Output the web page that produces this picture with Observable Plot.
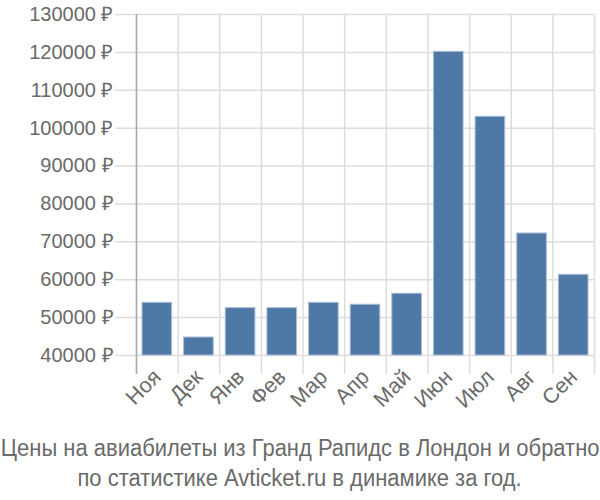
<!DOCTYPE html>
<html>
<head>
<meta charset="utf-8">
<script src="https://cdn.jsdelivr.net/npm/d3@7"></script>
<script src="https://cdn.jsdelivr.net/npm/@observablehq/plot@0.6"></script>
<style>
  html, body { margin: 0; padding: 0; background: #fff; }
  #chart { width: 600px; height: 425px; }
  .caption {
    width: 600px;
    display: flex;
    flex-direction: column;
    align-items: center;
    font-family: "Liberation Sans", Arial, sans-serif;
    font-size: 23.5px;
    line-height: 30px;
    color: #6a6a6a;
    margin-top: 8px;
    white-space: nowrap;
  }
  .caption div {
    width: max-content;
    transform: scaleX(0.935);
    transform-origin: 50% 0;
  }
</style>
</head>
<body>
<div id="chart"></div>
<div class="caption"><div>Цены на авиабилеты из Гранд Рапидс в Лондон и обратно</div><div>по статистике Avticket.ru в динамике за год.</div></div>
<script>
const months = ["Ноя", "Дек", "Янв", "Фев", "Мар", "Апр", "Май", "Июн", "Июл", "Авг", "Сен"];
const prices = [53900, 44750, 52500, 52500, 53900, 53400, 56300, 120150, 103000, 72200, 61300];
const yTicks = [40000, 50000, 60000, 70000, 80000, 90000, 100000, 110000, 120000, 130000];

const data = months.map((m, i) => ({month: m, price: prices[i]}));

const W = 600, H = 425, ML = 136, MR = 6, MT = 14, MB = 70;
const bw = (W - ML - MR) / months.length;

const chart = Plot.plot({
  width: W,
  height: H,
  marginLeft: ML,
  marginRight: MR,
  marginTop: MT,
  marginBottom: MB,
  style: {fontFamily: "'Liberation Sans', Arial, sans-serif", fontSize: "20px", color: "#6a6a6a", background: "#fff"},
  x: {domain: months, padding: 0, round: false, label: null},
  y: {domain: [40000, 130000], label: null},
  marks: [
    // horizontal gridlines + left ticks
    Plot.ruleY(yTicks, {stroke: "#ddd", strokeWidth: 1.5, insetLeft: -21}),
    // vertical gridlines at band edges
    Plot.ruleX(months, {x: d => d, dx: -bw / 2, stroke: "#ddd", strokeWidth: 1.5, insetBottom: -19}),
    Plot.ruleX([months[months.length - 1]], {x: d => d, dx: bw / 2, stroke: "#ddd", strokeWidth: 1.5, insetBottom: -19}),
    // left axis line
    Plot.ruleX([months[0]], {x: d => d, dx: -bw / 2, stroke: "#aaa", strokeWidth: 1.5, insetBottom: -19}),
    Plot.barY(data, {x: "month", y1: yTicks[0], y2: "price", fill: "#4e78a6", stroke: "#a9bdd6", strokeWidth: 1, insetLeft: 6, insetRight: 6}),
    Plot.axisY({ticks: yTicks, tickFormat: d => d + " ₽", tickSize: 0, tickPadding: 23, fill: "#6a6a6a", fontSize: 20, letterSpacing: 1, label: null}),
    Plot.axisX({tickSize: 0, tickRotate: -45, tickPadding: 18, fill: "#6a6a6a", fontSize: 21.5, letterSpacing: 1, label: null})
  ]
});
document.getElementById("chart").appendChild(chart);
</script>
</body>
</html>
